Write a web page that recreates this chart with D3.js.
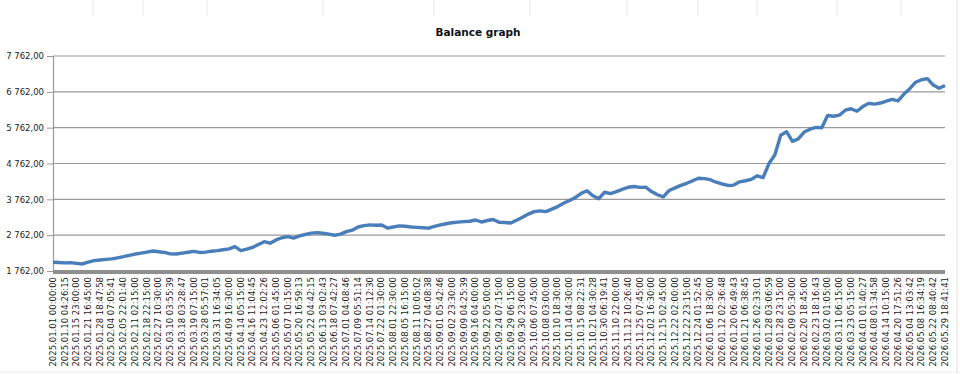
<!DOCTYPE html>
<html>
<head>
<meta charset="utf-8">
<script src="https://cdn.jsdelivr.net/npm/d3@7"></script>
<style>
  body { margin: 0; background: #fff; }
  svg { display: block; font-family: 'DejaVu Sans', Verdana, sans-serif; }
</style>
</head>
<body>
<div id="chart"></div>
<script>
// Data
const xLabels = [
  '2025.01.01 00:00:00', '2025.01.10 04:26:15', '2025.01.15 23:00:00', '2025.01.21 16:45:00',
  '2025.01.28 18:47:58', '2025.02.04 07:05:41', '2025.02.05 22:01:40', '2025.02.11 02:15:00',
  '2025.02.18 22:15:00', '2025.02.27 10:30:00', '2025.03.10 03:55:39', '2025.03.18 03:28:47',
  '2025.03.19 07:15:00', '2025.03.28 05:57:01', '2025.03.31 16:34:05', '2025.04.09 16:30:00',
  '2025.04.14 05:15:00', '2025.04.16 11:04:45', '2025.04.23 12:02:26', '2025.05.06 01:45:00',
  '2025.05.07 10:15:00', '2025.05.20 16:59:13', '2025.05.22 04:42:15', '2025.06.13 03:02:43',
  '2025.06.18 07:42:27', '2025.07.01 04:08:46', '2025.07.09 05:51:14', '2025.07.14 01:12:30',
  '2025.07.22 01:30:00', '2025.08.01 22:30:00', '2025.08.05 16:15:00', '2025.08.11 10:05:02',
  '2025.08.27 04:08:38', '2025.09.01 05:42:46', '2025.09.02 23:30:00', '2025.09.09 04:25:39',
  '2025.09.16 04:00:00', '2025.09.22 05:00:00', '2025.09.24 07:15:00', '2025.09.29 06:15:00',
  '2025.09.30 23:00:00', '2025.10.06 07:45:00', '2025.10.08 03:00:00', '2025.10.10 18:30:00',
  '2025.10.14 04:30:00', '2025.10.15 08:22:31', '2025.10.21 04:30:28', '2025.10.30 06:19:41',
  '2025.11.10 22:00:00', '2025.11.12 10:26:40', '2025.11.25 07:45:00', '2025.12.02 16:30:00',
  '2025.12.15 02:45:00', '2025.12.22 02:00:00', '2025.12.22 23:15:00', '2025.12.24 01:52:45',
  '2026.01.06 18:30:00', '2026.01.12 02:36:48', '2026.01.20 06:49:43', '2026.01.21 06:38:45',
  '2026.01.26 02:33:01', '2026.01.28 03:06:59', '2026.01.28 23:15:00', '2026.02.09 05:30:00',
  '2026.02.20 18:45:00', '2026.02.23 18:16:43', '2026.03.02 01:05:00', '2026.03.11 06:15:00',
  '2026.03.23 05:15:00', '2026.04.01 01:40:27', '2026.04.08 01:34:58', '2026.04.14 10:15:00',
  '2026.04.20 17:51:26', '2026.05.04 13:03:42', '2026.05.08 16:34:19', '2026.05.22 08:40:42',
  '2026.05.29 18:41:41',
];

// balance, two readings per label step
const balance = [
  2006, 2000, 1990, 1995, 1975, 1958, 2010, 2050, 2070, 2085,
  2100, 2130, 2162, 2200, 2235, 2260, 2290, 2320, 2300, 2280,
  2240, 2235, 2260, 2285, 2310, 2280, 2290, 2315, 2330, 2355,
  2380, 2440, 2330, 2370, 2420, 2500, 2580, 2537, 2630, 2690,
  2720, 2680, 2740, 2780, 2820, 2834, 2815, 2790, 2760, 2790,
  2860, 2900, 2990, 3030, 3050, 3040, 3045, 2960, 2990, 3020,
  3010, 2990, 2980, 2970, 2960, 3010, 3050, 3080, 3110, 3125,
  3140, 3150, 3185, 3130, 3170, 3200, 3120, 3115, 3100, 3180,
  3260, 3350, 3420, 3440, 3420, 3490, 3560, 3650, 3730, 3810,
  3930, 4000, 3860, 3780, 3960, 3920, 3975, 4040, 4100, 4120,
  4095, 4100, 3980, 3890, 3830, 4010, 4080, 4150, 4210, 4280,
  4350, 4340, 4310, 4240, 4190, 4150, 4160, 4250, 4280, 4320,
  4420, 4370, 4760, 5000, 5550, 5650, 5380, 5450, 5640, 5720,
  5770, 5760, 6100, 6080, 6110, 6250, 6290, 6220, 6350, 6440,
  6420, 6450, 6500, 6550, 6510, 6700, 6850, 7030, 7100, 7130,
  6950, 6860, 6940,
];

const yTicks = [1762, 2762, 3762, 4762, 5762, 6762, 7762];

const width = 960;
const height = 374;
const plot = { l: 53, r: 945, t: 56, b: 271 };

const svg = d3
  .select('#chart')
  .append('svg')
  .attr('width', width)
  .attr('height', height);

// faint spreadsheet borders behind the chart
const cellLines = [93, 143, 207, 323, 434, 530, 627, 698, 757, 837, 901];
svg
  .append('g')
  .selectAll('line')
  .data(cellLines)
  .join('line')
  .attr('x1', (d) => d)
  .attr('x2', (d) => d)
  .attr('y1', 0)
  .attr('y2', 16)
  .attr('stroke', '#e6e6e6');
svg.append('line')
  .attr('x1', 957).attr('x2', 957).attr('y1', 0).attr('y2', height)
  .attr('stroke', '#e0e0e0');
svg.append('line')
  .attr('x1', 0).attr('x2', width).attr('y1', 372).attr('y2', 372)
  .attr('stroke', '#ececec');

// scales
const yScale = d3.scaleLinear([1762, 7762], [plot.b, plot.t]);
const xLine = d3.scaleLinear([0, balance.length - 1], [plot.l, plot.r]);
const xLab = d3.scalePoint(xLabels, [plot.l, plot.r]);

const locale = d3.formatLocale({ decimal: ',', thousands: ' ', grouping: [3] });
const fmt = locale.format(',.2f');

// grid lines
svg
  .append('g')
  .selectAll('line')
  .data(yTicks)
  .join('line')
  .attr('x1', plot.l)
  .attr('x2', plot.r)
  .attr('y1', (d) => yScale(d))
  .attr('y2', (d) => yScale(d))
  .attr('stroke', '#9a9a9a')
  .attr('stroke-width', 1.2);

// y axis
const yAxis = d3.axisLeft(yScale)
  .tickValues(yTicks)
  .tickFormat(fmt)
  .tickSize(6)
  .tickPadding(3);

svg
  .append('g')
  .attr('transform', `translate(${plot.l},0)`)
  .call(yAxis)
  .call((g) => g.select('.domain').attr('stroke', '#9a9a9a').attr('stroke-width', 1.2))
  .call((g) => g.selectAll('.tick line').attr('stroke', '#9a9a9a'))
  .call((g) => g.selectAll('text')
    .attr('fill', '#222')
    .style('font-size', '8.5px')
    .style('font-family', "'DejaVu Sans', Verdana, sans-serif"));

// x axis bar
svg
  .append('rect')
  .attr('x', plot.l)
  .attr('y', plot.b - 1)
  .attr('width', plot.r - plot.l)
  .attr('height', 4)
  .attr('fill', '#8f8f8f');

// x labels
svg
  .append('g')
  .selectAll('text')
  .data(xLabels)
  .join('text')
  .attr('transform', (d) => `translate(${xLab(d)},277)rotate(-90)`)
  .attr('dy', '0.33em')
  .attr('text-anchor', 'end')
  .attr('fill', '#1a1a1a')
  .style('font-size', '8.5px')
  .text((d) => d);

// balance line
const line = d3.line()
  .x((d, i) => xLine(i))
  .y((d) => yScale(d));

svg
  .append('path')
  .datum(balance)
  .attr('d', line)
  .attr('fill', 'none')
  .attr('stroke', '#4a7ebb')
  .attr('stroke-width', 3.4)
  .attr('stroke-linejoin', 'round');

// add title
svg
  .append('text')
  .attr('x', 478)
  .attr('y', 36)
  .attr('text-anchor', 'middle')
  .style('font-size', '10.5px')
  .style('font-weight', 'bold')
  .attr('fill', '#111')
  .text('Balance graph');
</script>
</body>
</html>
